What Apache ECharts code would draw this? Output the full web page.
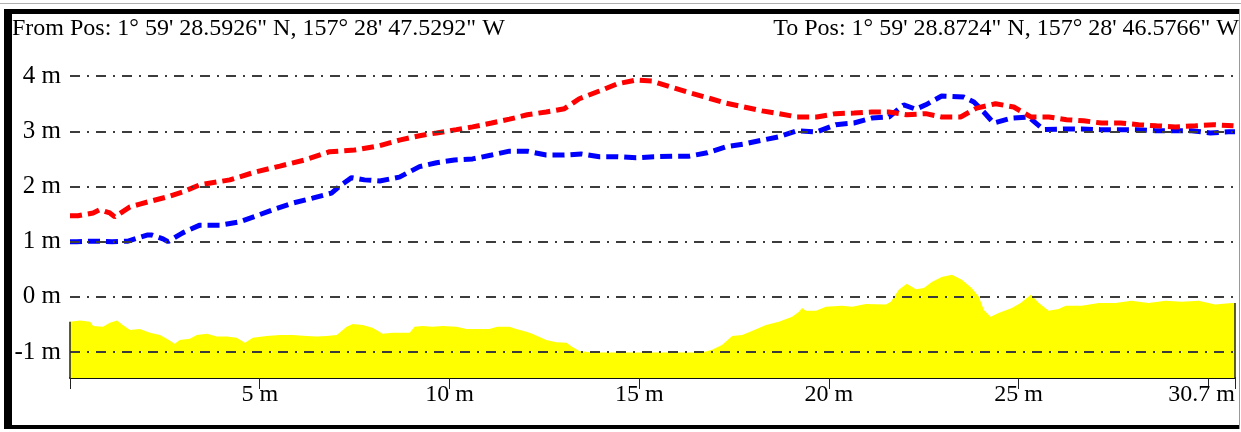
<!DOCTYPE html>
<html>
<head>
<meta charset="utf-8">
<script src="https://cdn.jsdelivr.net/npm/echarts@6/dist/echarts.min.js"></script>
<style>
  html, body { margin: 0; padding: 0; background: #fff; }
  #chart { width: 1241px; height: 432px; }
</style>
</head>
<body>
<div id="chart"></div>
<script>
// ---- Data (distance in m, height in m) ----
const fromText = "From Pos: 1\u00B0 59' 28.5926\" N, 157\u00B0 28' 47.5292\" W";
const toText = "To Pos: 1\u00B0 59' 28.8724\" N, 157\u00B0 28' 46.5766\" W";

const xMax = 30.7;
const yMin = -1.47;
const yMax = 4.6;
const yTicks = [-1, 0, 1, 2, 3, 4];
const xTicksLabeled = [5, 10, 15, 20, 25];

const terrain = [
  [0, -0.45], [0.26, -0.43], [0.53, -0.45], [0.61, -0.53], [0.87, -0.54], [1.05, -0.47],
  [1.24, -0.43], [1.39, -0.51], [1.58, -0.60], [1.84, -0.58], [2.11, -0.65], [2.37, -0.69],
  [2.55, -0.76], [2.76, -0.85], [2.89, -0.78], [3.16, -0.76], [3.34, -0.69], [3.61, -0.67],
  [3.87, -0.72], [4.13, -0.72], [4.39, -0.74], [4.61, -0.83], [4.82, -0.74], [5.18, -0.71],
  [5.53, -0.69], [5.87, -0.69], [6.24, -0.71], [6.50, -0.72], [6.76, -0.71], [7.03, -0.69],
  [7.29, -0.54], [7.45, -0.49], [7.71, -0.51], [7.97, -0.56], [8.24, -0.67], [8.50, -0.65],
  [8.95, -0.65], [9.08, -0.54], [9.29, -0.53], [9.55, -0.54], [9.82, -0.53], [10.18, -0.54],
  [10.45, -0.58], [10.71, -0.58], [11.05, -0.58], [11.26, -0.54], [11.58, -0.54], [11.76, -0.58],
  [12.03, -0.63], [12.18, -0.67], [12.55, -0.78], [12.82, -0.82], [13.08, -0.83], [13.24, -0.91],
  [13.42, -0.98], [13.76, -1.01], [14.82, -1.01], [16.13, -1.01], [16.66, -1.01], [16.92, -0.96],
  [17.18, -0.87], [17.45, -0.71], [17.71, -0.69], [17.97, -0.62], [18.34, -0.51], [18.68, -0.45],
  [19.03, -0.36], [19.21, -0.27], [19.29, -0.20], [19.39, -0.25], [19.66, -0.25], [19.92, -0.18],
  [20.34, -0.16], [20.61, -0.18], [20.97, -0.13], [21.50, -0.14], [21.63, -0.09], [21.84, 0.13],
  [22.05, 0.24], [22.29, 0.14], [22.50, 0.16], [22.71, 0.27], [22.97, 0.36], [23.24, 0.40],
  [23.50, 0.31], [23.76, 0.16], [23.95, 0.00], [24.08, -0.24], [24.26, -0.36], [24.47, -0.29],
  [24.82, -0.20], [25.05, -0.11], [25.32, 0.04], [25.53, -0.11], [25.79, -0.25], [26.05, -0.22],
  [26.24, -0.16], [26.66, -0.16], [27.11, -0.11], [27.55, -0.11], [27.97, -0.07], [28.42, -0.11],
  [28.87, -0.07], [29.29, -0.09], [29.74, -0.07], [30.18, -0.14], [30.61, -0.11], [30.7, -0.11]
];

const redLine = [
  [0, 1.47], [0.21, 1.47], [0.61, 1.52], [0.79, 1.58], [1.05, 1.52], [1.18, 1.45],
  [1.58, 1.63], [1.84, 1.68], [2.05, 1.72], [2.55, 1.81], [2.97, 1.90], [3.42, 2.03],
  [4.21, 2.12], [4.87, 2.26], [5.53, 2.37], [6.18, 2.48], [6.84, 2.63], [7.50, 2.66],
  [8.16, 2.74], [8.68, 2.84], [9.21, 2.92], [9.66, 2.97], [10.18, 3.03], [10.61, 3.08],
  [11.11, 3.15], [11.58, 3.22], [12.05, 3.30], [12.55, 3.35], [13.03, 3.41], [13.42, 3.59],
  [13.95, 3.73], [14.42, 3.86], [14.92, 3.93], [15.34, 3.91], [15.84, 3.80], [16.32, 3.70],
  [16.79, 3.61], [17.29, 3.51], [17.76, 3.44], [18.24, 3.37], [18.68, 3.32], [19.16, 3.26],
  [19.68, 3.26], [20.18, 3.32], [20.66, 3.33], [21.13, 3.35], [21.58, 3.35], [22.05, 3.30],
  [22.55, 3.32], [22.97, 3.26], [23.47, 3.26], [23.89, 3.42], [24.39, 3.50], [24.87, 3.44],
  [25.32, 3.26], [25.79, 3.26], [26.26, 3.21], [26.71, 3.19], [27.18, 3.15], [27.68, 3.15],
  [28.16, 3.12], [28.63, 3.10], [29.13, 3.08], [29.66, 3.10], [30.13, 3.12], [30.66, 3.10]
];

const blueLine = [
  [0, 1.00], [0.18, 1.00], [0.61, 1.01], [1.11, 1.00], [1.53, 1.01], [2.03, 1.12],
  [2.16, 1.12], [2.45, 1.05], [2.58, 1.00], [2.97, 1.16], [3.42, 1.30], [3.95, 1.30],
  [4.47, 1.36], [4.92, 1.47], [5.39, 1.59], [5.87, 1.70], [6.39, 1.79], [6.89, 1.88],
  [7.11, 2.01], [7.42, 2.16], [7.76, 2.12], [8.16, 2.10], [8.68, 2.17], [9.21, 2.36],
  [9.66, 2.43], [10.13, 2.48], [10.61, 2.50], [11.11, 2.57], [11.58, 2.64], [12.05, 2.64],
  [12.55, 2.57], [13.03, 2.57], [13.47, 2.59], [13.95, 2.54], [14.42, 2.54], [14.92, 2.52],
  [15.39, 2.54], [15.87, 2.55], [16.32, 2.55], [16.79, 2.61], [17.29, 2.72], [17.76, 2.77],
  [18.24, 2.84], [18.68, 2.90], [19.16, 3.01], [19.68, 2.99], [20.18, 3.12], [20.66, 3.15],
  [21.13, 3.24], [21.58, 3.26], [21.97, 3.48], [22.29, 3.40], [22.55, 3.48], [22.97, 3.64],
  [23.55, 3.62], [23.82, 3.53], [24.08, 3.35], [24.34, 3.15], [24.82, 3.24], [25.26, 3.26],
  [25.66, 3.03], [26.18, 3.04], [26.66, 3.04], [27.16, 3.03], [27.63, 3.03], [28.11, 3.03],
  [28.61, 3.01], [29.08, 3.01], [29.55, 3.01], [30.05, 2.97], [30.53, 2.99], [30.7, 2.99]
];

// ---- Chart ----
const FONT = '"Liberation Serif", "Times New Roman", serif';
const chart = echarts.init(document.getElementById('chart'), null, { renderer: 'canvas' });

const first = terrain[0], last = terrain[terrain.length - 1];

const option = {
  backgroundColor: '#ffffff',
  animation: false,
  title: [
    { text: fromText, left: 12, top: 17, padding: 0, textStyle: { fontFamily: FONT, fontSize: 24, fontWeight: 'normal', color: '#000' } },
    { text: toText, right: 2, top: 17, padding: 0, textStyle: { fontFamily: FONT, fontSize: 24, fontWeight: 'normal', color: '#000' } }
  ],
  grid: { left: 70, right: 6, top: 43, bottom: 54, containLabel: false },
  xAxis: {
    type: 'value', min: 0, max: xMax, interval: 5,
    axisLine: { show: true, onZero: false, lineStyle: { color: '#111', width: 2 } },
    axisTick: { show: true, length: 11, lineStyle: { color: '#222', width: 1 } },
    splitLine: { show: false },
    axisLabel: {
      fontFamily: FONT, fontSize: 24, color: '#000', margin: 5,
      showMinLabel: true, showMaxLabel: true, alignMaxLabel: 'right',
      formatter: function (v) {
        if (Math.abs(v - xMax) < 1e-6) return xMax + ' m';
        return xTicksLabeled.indexOf(v) >= 0 ? v + ' m' : '';
      }
    }
  },
  yAxis: { type: 'value', min: yMin, max: yMax, show: false },
  series: [
    {
      name: 'terrain', type: 'line', data: terrain, symbol: 'none', z: 1,
      lineStyle: { width: 0 },
      areaStyle: { color: '#ffff00', opacity: 1, origin: 'start' }
    },
    {
      name: 'blue', type: 'line', data: blueLine, symbol: 'none', z: 3,
      lineStyle: { color: '#0000ff', width: 5, type: [12, 6], cap: 'butt' }
    },
    {
      name: 'red', type: 'line', data: redLine, symbol: 'none', z: 4,
      lineStyle: { color: '#ff0000', width: 5, type: [12, 6], cap: 'butt' }
    },
    {
      name: 'grid', type: 'line', data: [], z: 6, silent: true,
      markLine: {
        silent: true, symbol: 'none', animation: false,
        lineStyle: { color: '#3c3c3c', width: 2, type: [10, 7, 2, 7] },
        label: {
          position: 'start', distance: 9, fontFamily: FONT, fontSize: 25, color: '#000',
          formatter: function (p) { return p.value + ' m'; }
        },
        emphasis: { disabled: true },
        data: yTicks.map(v => ({ yAxis: v })).concat([
          [{ coord: [first[0], yMin], lineStyle: { type: 'solid', width: 1.5, color: '#222' }, label: { show: false } },
           { coord: [first[0], first[1]] }],
          [{ coord: [xMax, yMin], lineStyle: { type: 'solid', width: 1.5, color: '#222' }, label: { show: false } },
           { coord: [xMax, last[1]] }]
        ])
      }
    }
  ],
  graphic: [
    { type: 'rect', shape: { x: 0, y: 3, width: 1241, height: 1 }, style: { fill: '#b0b0b0' }, z: 100 },
    { type: 'rect', shape: { x: 4, y: 9, width: 1236, height: 5 }, style: { fill: '#000' }, z: 100 },
    { type: 'rect', shape: { x: 4, y: 9, width: 8, height: 420 }, style: { fill: '#000' }, z: 100 },
    { type: 'rect', shape: { x: 4, y: 425, width: 1236, height: 4 }, style: { fill: '#000' }, z: 100 },
    { type: 'rect', shape: { x: 1239, y: 9, width: 1, height: 420 }, style: { fill: '#999' }, z: 100 }
  ]
};
chart.setOption(option);
</script>
</body>
</html>
